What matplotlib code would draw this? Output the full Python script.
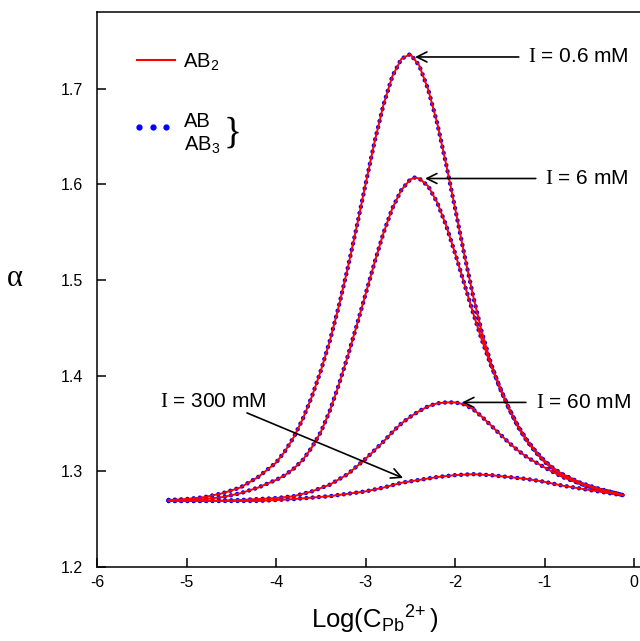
import matplotlib
matplotlib.use("Agg")
import matplotlib.pyplot as plt

plt.rcParams['font.family'] = ['Liberation Sans', 'DejaVu Sans']
plt.rcParams['mathtext.fontset'] = 'custom'
plt.rcParams['mathtext.rm'] = 'Liberation Sans'
plt.rcParams['mathtext.it'] = 'Liberation Sans:italic'
plt.rcParams['mathtext.cal'] = 'Liberation Serif'
plt.rcParams['axes.unicode_minus'] = False

# alpha vs log(C_Pb2+), one curve per ionic strength (AB2 line, AB/AB3 dots overlap)
x_06 = [-5.2, -5.0, -4.8, -4.6, -4.4, -4.2, -4.0, -3.9, -3.8, -3.7, -3.6, -3.5, -3.4,
        -3.3, -3.2, -3.1, -3.0, -2.9, -2.8, -2.7, -2.6, -2.5, -2.4, -2.3, -2.2, -2.1,
        -2.0, -1.9, -1.8, -1.7, -1.6, -1.5, -1.4, -1.3, -1.2, -1.1, -1.0, -0.9, -0.8,
        -0.6, -0.4, -0.2, -0.12]
y_06 = [1.270, 1.271, 1.273, 1.277, 1.283, 1.294, 1.309, 1.321, 1.336, 1.355, 1.378,
        1.405, 1.436, 1.472, 1.512, 1.555, 1.600, 1.644, 1.683, 1.713, 1.731, 1.736,
        1.724, 1.699, 1.664, 1.621, 1.575, 1.528, 1.484, 1.445, 1.413, 1.387, 1.366,
        1.348, 1.333, 1.321, 1.311, 1.303, 1.297, 1.288, 1.282, 1.277, 1.275]

x_6 = [-5.2, -5.0, -4.8, -4.6, -4.4, -4.2, -4.0, -3.9, -3.8, -3.7, -3.6, -3.5, -3.4,
       -3.3, -3.2, -3.1, -3.0, -2.9, -2.8, -2.7, -2.6, -2.5, -2.45, -2.4, -2.3, -2.2,
       -2.1, -2.0, -1.9, -1.8, -1.7, -1.6, -1.5, -1.4, -1.3, -1.2, -1.1, -1.0, -0.9,
       -0.8, -0.6, -0.4, -0.2, -0.12]
y_6 = [1.270, 1.270, 1.271, 1.273, 1.277, 1.283, 1.291, 1.296, 1.303, 1.312, 1.325,
       1.341, 1.363, 1.390, 1.420, 1.452, 1.485, 1.518, 1.549, 1.575, 1.594, 1.605,
       1.607, 1.606, 1.598, 1.581, 1.557, 1.528, 1.497, 1.466, 1.437, 1.411, 1.388,
       1.366, 1.347, 1.332, 1.320, 1.310, 1.302, 1.296, 1.287, 1.281, 1.277, 1.275]

x_60 = [-5.2, -4.8, -4.4, -4.0, -3.8, -3.6, -3.4, -3.2, -3.0, -2.9, -2.8, -2.7, -2.6,
        -2.5, -2.4, -2.3, -2.2, -2.1, -2.0, -1.9, -1.8, -1.7, -1.6, -1.5, -1.4, -1.3,
        -1.2, -1.0, -0.8, -0.6, -0.4, -0.2, -0.12]
y_60 = [1.269, 1.269, 1.270, 1.272, 1.274, 1.279, 1.286, 1.297, 1.313, 1.322, 1.331,
        1.341, 1.350, 1.357, 1.363, 1.368, 1.371, 1.372, 1.372, 1.370, 1.365, 1.357,
        1.348, 1.339, 1.330, 1.322, 1.315, 1.304, 1.294, 1.287, 1.281, 1.277, 1.275]

x_300 = [-5.2, -4.6, -4.2, -3.8, -3.4, -3.0, -2.8, -2.6, -2.4, -2.2, -2.0, -1.8, -1.6,
         -1.4, -1.2, -1.0, -0.8, -0.6, -0.4, -0.2, -0.12]
y_300 = [1.269, 1.269, 1.269, 1.271, 1.274, 1.279, 1.283, 1.288, 1.291, 1.294, 1.296,
         1.297, 1.296, 1.294, 1.292, 1.289, 1.285, 1.282, 1.279, 1.276, 1.275]

x_ticks = [-6, -5, -4, -3, -2, -1, 0]
y_ticks = [1.2, 1.3, 1.4, 1.5, 1.6, 1.7]

RED = "#ff0000"
BLUE = "#0000ff"

fig = plt.figure(figsize=(6.4, 6.41), dpi=100)
ax = fig.add_axes([97 / 640, 74 / 641, 555 / 640, 555 / 641])
ax.set_xlim(-6, 0.2)
ax.set_ylim(1.2, 1.78)

for x, y in [(x_06, y_06), (x_6, y_6), (x_60, y_60), (x_300, y_300)]:
    ax.plot(x, y, color=BLUE, lw=3.2, linestyle=(0, (0.01, 1.4)),
            dash_capstyle='round', zorder=2)
    ax.plot(x, y, color=RED, lw=1.4, zorder=3)

ax.spines['right'].set_visible(False)
for s in ('left', 'bottom', 'top'):
    ax.spines[s].set_linewidth(1.1)
ax.set_xticks(x_ticks)
ax.set_xticklabels([str(t) for t in x_ticks])
ax.set_yticks(y_ticks)
ax.set_yticklabels([f"{t:.1f}" for t in y_ticks])
ax.tick_params(direction='in', length=6.5, width=1.1, labelsize=11.5,
               top=False, right=False)
ax.tick_params(axis='y', pad=10)
ax.tick_params(axis='x', pad=6)

ax.set_xlabel(r"Log(C$_{\mathrm{Pb}}$$^{2\!+}$)", fontsize=18.5, labelpad=10)
ax.text(-0.148, 0.52, "α", transform=ax.transAxes, family='Liberation Serif',
        fontsize=22, ha='center', va='center')

# annotations
arrow = dict(arrowstyle='->', color='black', lw=1.2, mutation_scale=18,
             shrinkA=5, shrinkB=0)
ax.annotate(r"$\mathcal{I}$ = 0.6 mM", xy=(-2.447, 1.733), xytext=(-1.18, 1.733),
            ha='left', va='center', fontsize=15, arrowprops=arrow)
ax.annotate(r"$\mathcal{I}$ = 6 mM", xy=(-2.335, 1.606), xytext=(-0.99, 1.606),
            ha='left', va='center', fontsize=15, arrowprops=arrow)
ax.annotate(r"$\mathcal{I}$ = 60 mM", xy=(-1.922, 1.372), xytext=(-1.10, 1.372),
            ha='left', va='center', fontsize=15, arrowprops=arrow)
ax.text(-5.30, 1.373, r"$\mathcal{I}$ = 300 mM", ha='left', va='center', fontsize=15)
ax.annotate("", xy=(-2.581, 1.293), xytext=(-4.324, 1.361),
            arrowprops=dict(arrow, shrinkA=0))

# legend drawn by hand (the brace groups AB and AB3)
ax.plot([0.072, 0.1405], [0.9135, 0.9135], transform=ax.transAxes, color=RED, lw=1.5)
ax.plot([0.0757, 0.101, 0.124], [0.793, 0.793, 0.793], 'o', ms=3.5, color=BLUE,
        transform=ax.transAxes)
ax.text(0.155, 0.90, "AB$_2$", transform=ax.transAxes, fontsize=14.5, va='baseline')
ax.text(0.157, 0.792, "AB", transform=ax.transAxes, fontsize=14.5, va='baseline')
ax.text(0.157, 0.7505, "AB$_3$", transform=ax.transAxes, fontsize=14.5, va='baseline')
ax.text(0.245, 0.782, "}", transform=ax.transAxes, fontsize=27, ha='center',
        va='center', family='Liberation Serif')

fig.savefig("out.png", dpi=100)
